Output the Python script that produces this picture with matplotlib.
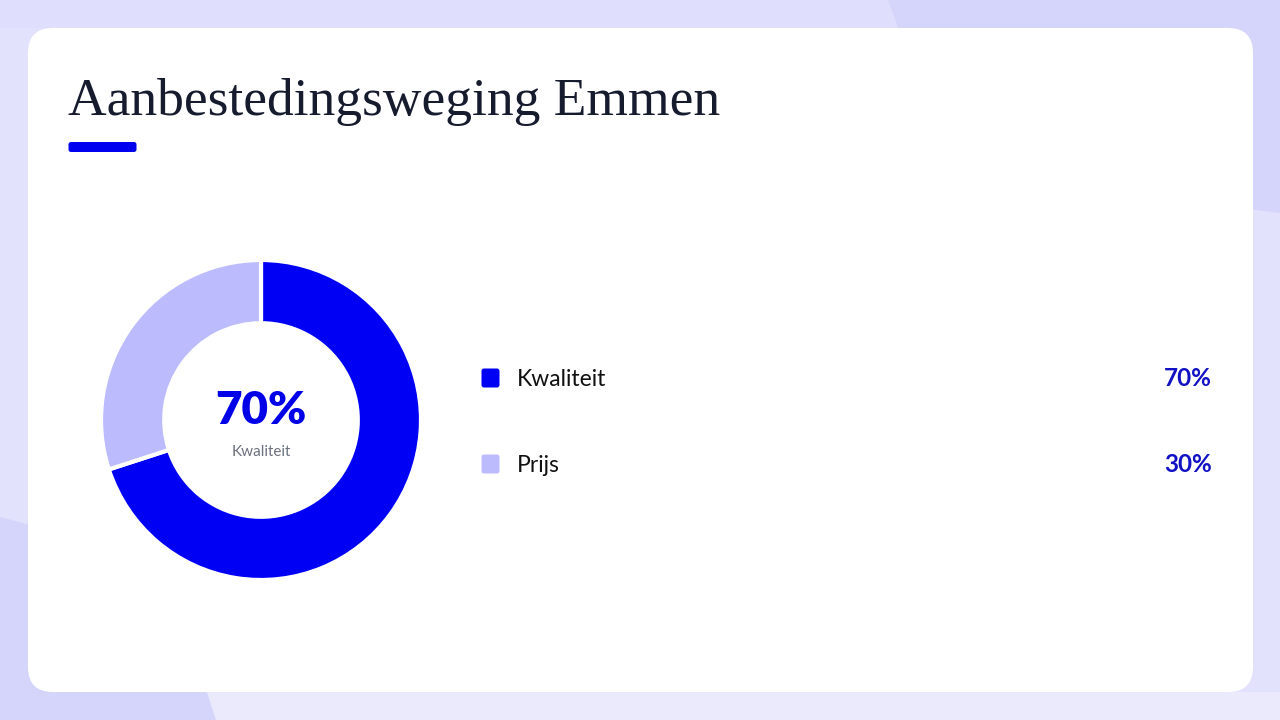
import matplotlib
matplotlib.use("Agg")
import matplotlib.pyplot as plt
from matplotlib.patches import FancyBboxPatch, Polygon

# ---- data ----
title = "Aanbestedingsweging Emmen"
categories = ["Kwaliteit", "Prijs"]
values = [70, 30]
value_labels = ["70%", "30%"]
colors = ["#0000f5", "#bcbbfd"]
center_value = "70%"
center_label = "Kwaliteit"

W, H = 1280, 720
fig = plt.figure(figsize=(W / 100, H / 100), dpi=100)
fig.patch.set_facecolor("#e3e2fc")

bg = fig.add_axes([0, 0, 1, 1])
bg.set_xlim(0, W)
bg.set_ylim(H, 0)
bg.axis("off")

# background shapes
bg.add_patch(Polygon([(888, 0), (W, 0), (W, 213), (1240, 208), (898, 28)],
                     closed=True, facecolor="#d5d4fb", edgecolor="none", zorder=0))
bg.add_patch(Polygon([(0, 517), (30, 525), (207, 692), (216, H), (0, H)],
                     closed=True, facecolor="#d5d4fb", edgecolor="none", zorder=0))
bg.add_patch(Polygon([(216, H), (207, 692), (W, 692), (W, H)],
                     closed=True, facecolor="#ebeafd", edgecolor="none", zorder=0))
bg.add_patch(Polygon([(0, 0), (888, 0), (898, 28), (0, 28)],
                     closed=True, facecolor="#dfdefc", edgecolor="none", zorder=0))

# white card
bg.add_patch(FancyBboxPatch((28 + 25, 28 + 25), 1225 - 50, 664 - 50,
                            boxstyle="round,pad=25", facecolor="white",
                            edgecolor="none", zorder=1))

# title
bg.text(68, 115, title, fontsize=38.5, family="Liberation Serif",
        color="#161b2e", ha="left", va="baseline", zorder=3)
bg.add_patch(FancyBboxPatch((71, 144.5), 63, 5, boxstyle="round,pad=2.5",
                            facecolor="#0000f0", edgecolor="none", zorder=3))

# donut
cx, cy, R = 261, 420, 160
pax = fig.add_axes([(cx - R) / W, (H - cy - R) / H, 2 * R / W, 2 * R / H])
pax.pie(values, colors=colors, startangle=90, counterclock=False, radius=1,
        wedgeprops=dict(width=0.395, edgecolor="white", linewidth=3))
pax.set_xlim(-1, 1)
pax.set_ylim(-1, 1)
pax.set_aspect("equal")
pax.axis("off")

bg.text(cx, 411, center_value, fontsize=33, weight="heavy", family="Lato",
        color="#0000e8", ha="center", va="center", zorder=3)
bg.text(cx, 452, center_label, fontsize=11, family="Lato",
        color="#6b7280", ha="center", va="center", zorder=3)

# legend
row_y = [378, 464]
for cat, lab, col, y in zip(categories, value_labels, colors, row_y):
    bg.add_patch(FancyBboxPatch((484, y - 7), 13, 14, boxstyle="round,pad=2.5",
                                facecolor=col, edgecolor="none", zorder=3))
    bg.text(517, y + 1, cat, fontsize=16.5, family="Lato", color="#111111",
            ha="left", va="center", zorder=3)
    bg.text(1212, y + 1, lab, fontsize=17.5, family="Lato", weight="bold",
            color="#1212c4", ha="right", va="center", zorder=3)

fig.savefig("out.png", dpi=100, facecolor=fig.get_facecolor())
